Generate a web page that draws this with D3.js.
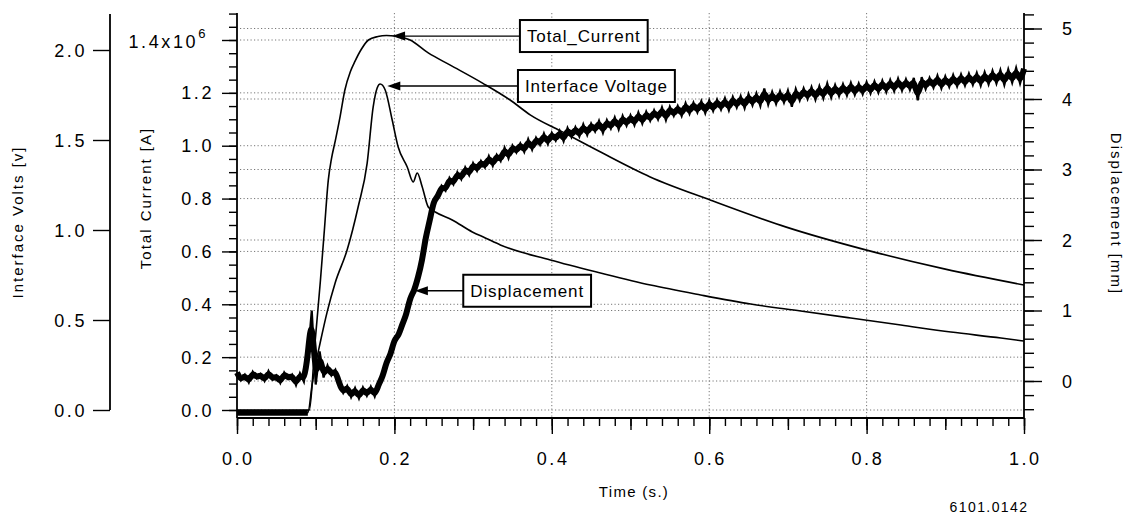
<!DOCTYPE html>
<html><head><meta charset="utf-8">
<script src="https://cdn.jsdelivr.net/npm/d3@7"></script>
<style>
body{margin:0;background:#fff}
svg{display:block}
text{font-family:"Liberation Sans",Arial,Helvetica,sans-serif;fill:#000}
</style>
</head><body>
<svg id="chart" width="1126" height="518"></svg>
<script>
// ---------- data ----------
const timeTicks = [0, 0.2, 0.4, 0.6, 0.8, 1.0];
const currentTicks = [0, 0.2, 0.4, 0.6, 0.8, 1.0, 1.2, 1.4];
const voltTicks = [0, 0.5, 1.0, 1.5, 2.0];
const dispTicks = [0, 1, 2, 3, 4, 5];

// Total current (x10^6 A)
const currentTime = [0, 0.092, 0.099, 0.106, 0.111, 0.116, 0.120, 0.125, 0.131, 0.137, 0.144, 0.150, 0.158, 0.167, 0.179, 0.190, 0.201, 0.220, 0.243, 0.271, 0.312, 0.347, 0.373, 0.411, 0.462, 0.525, 0.602, 0.698, 0.800, 0.900, 1.000];
const currentVal  = [0, 0,     0.25,  0.49,  0.68,  0.87,  0.95,  1.02,  1.11,  1.21,  1.28,  1.32,  1.365, 1.40,  1.413, 1.417, 1.415, 1.400, 1.351, 1.305, 1.237, 1.173, 1.116, 1.056, 0.976, 0.882, 0.794, 0.692, 0.605, 0.533, 0.473];

// Interface voltage (V)
const voltTime = [0, 0.090, 0.0954, 0.1005, 0.1056, 0.1145, 0.1247, 0.1399, 0.1539, 0.1654, 0.1730, 0.1781, 0.1819, 0.1883, 0.1972, 0.2048, 0.2163, 0.2239, 0.2290, 0.2354, 0.2430, 0.2519, 0.2735, 0.2990, 0.3155, 0.3346, 0.3982, 0.4618, 0.5254, 0.5891, 0.6527, 0.7163, 0.7799, 0.8435, 0.9071, 0.9707, 1.0];
const voltVal  = [-0.015, -0.015, 0.139, 0.267, 0.372, 0.544, 0.706, 0.889, 1.128, 1.372, 1.683, 1.789, 1.811, 1.778, 1.611, 1.461, 1.350, 1.267, 1.317, 1.239, 1.128, 1.100, 1.056, 0.989, 0.956, 0.917, 0.833, 0.761, 0.694, 0.639, 0.589, 0.550, 0.511, 0.472, 0.433, 0.400, 0.383];
const preTriggerEnd = 0.090;

// Displacement (mm), sampled every 0.005 s from t = 0
const dispStart = 0, dispStep = 0.005;
const dispVal = [
 0.12, 0.01, 0.09,-0.02, 0.13, 0.04, 0.10, 0.00, 0.14, 0.02,
 0.08,-0.03, 0.12, 0.03, 0.09,-0.06, 0.11,-0.01, 0.35, 1.00,
-0.05, 0.42, 0.05, 0.22, 0.08, 0.16,-0.04,-0.17,-0.07,-0.23,
-0.10,-0.25,-0.09,-0.21,-0.08,-0.22,-0.04, 0.05, 0.28, 0.36,
 0.60, 0.63, 0.81, 0.93, 1.19, 1.27, 1.47, 1.69, 2.06, 2.27,
 2.57, 2.60, 2.77, 2.70, 2.88, 2.79, 2.96, 2.86, 3.03, 2.92,
 3.09, 2.98, 3.12, 3.03, 3.19, 3.05, 3.21, 3.12, 3.31, 3.16,
 3.34, 3.24, 3.37, 3.25, 3.43, 3.28, 3.45, 3.35, 3.51, 3.36,
 3.52, 3.41, 3.55, 3.40, 3.59, 3.46, 3.60, 3.47, 3.64, 3.49,
 3.65, 3.54, 3.69, 3.52, 3.70, 3.58, 3.74, 3.57, 3.76, 3.62,
 3.77, 3.63, 3.81, 3.65, 3.82, 3.69, 3.84, 3.71, 3.88, 3.70,
 3.89, 3.76, 3.90, 3.76, 3.94, 3.79, 3.95, 3.81, 3.97, 3.80,
 3.98, 3.83, 3.99, 3.85, 4.01, 3.84, 4.03, 3.88, 4.04, 3.87,
 4.07, 3.91, 4.08, 3.90, 4.15, 3.92, 4.10, 3.93, 4.11, 3.95,
 4.12, 3.89, 4.14, 3.98, 4.15, 4.00, 4.17, 3.99, 4.18, 4.01,
 4.22, 4.02, 4.20, 4.04, 4.21, 4.05, 4.23, 4.06, 4.22, 4.07,
 4.24, 4.08, 4.25, 4.09, 4.26, 4.10, 4.27, 4.11, 4.29, 4.12,
 4.28, 4.13, 4.30, 3.98, 4.31, 4.14, 4.30, 4.16, 4.33, 4.15,
 4.32, 4.17, 4.34, 4.18, 4.35, 4.19, 4.36, 4.20, 4.37, 4.19,
 4.38, 4.21, 4.40, 4.22, 4.41, 4.20, 4.42, 4.23, 4.44, 4.22,
 4.43
];

// Annotations: label, arrow tip (time, value on its axis), box left (time)
const annLabels = ['Total_Current', 'Interface Voltage', 'Displacement'];
const annTipTime = [0.197, 0.191, 0.226];
const annTipValue = [1.415, 1.80, 1.28];
const annAxis = ['current', 'volt', 'disp'];
const annBoxTime = [0.3595, 0.357, 0.2875];

// ---------- layout ----------
const svg = d3.select('#chart');
const plotTop = 13, plotBottom = 418;
const x = d3.scaleLinear().domain([0, 1]).range([237, 1024]);
const yC = d3.scaleLinear().domain([0, 1.4]).range([410, 40]);
const yV = d3.scaleLinear().domain([0, 2.0]).range([410, 50]);
const yD = d3.scaleLinear().domain([0, 5]).range([381, 28.5]);
const yOf = {current: yC, volt: yV, disp: yD};
const fmt1 = d3.format('.1f');
const tickFont = 18, tickLS = 2.6;

// ---------- grid ----------
const grid = svg.append('g').attr('stroke', '#777').attr('stroke-width', 1).attr('stroke-dasharray', '1.2,2.3').attr('fill', 'none');
grid.selectAll('line.gc').data(currentTicks).join('line').attr('class', 'gc')
  .attr('x1', x(0) + 3).attr('x2', x(1) - 2).attr('y1', d => yC(d)).attr('y2', d => yC(d));
grid.selectAll('line.gd').data(dispTicks).join('line').attr('class', 'gd')
  .attr('x1', x(0) + 3).attr('x2', x(1) - 2).attr('y1', d => yD(d)).attr('y2', d => yD(d));
grid.selectAll('line.gt').data(timeTicks.slice(1, -1)).join('line').attr('class', 'gt')
  .attr('x1', d => x(d)).attr('x2', d => x(d)).attr('y1', plotTop).attr('y2', plotBottom);

// ---------- curves ----------
const curveG = svg.append('g').attr('fill', 'none').attr('stroke', '#000');
const currentPts = currentTime.map((t, i) => [t, currentVal[i]]);
const voltPts = voltTime.map((t, i) => [t, voltVal[i]]);
const dispPts = dispVal.map((v, i) => [dispStart + i * dispStep, v]);

const dispLine = d3.line().x(d => x(d[0])).y(d => yD(d[1]));
// smoothed core of the noisy displacement trace
curveG.append('path')
  .attr('d', dispLine.curve(d3.curveBasis)(dispPts))
  .attr('stroke-width', 6).attr('stroke-linejoin', 'round');
// raw noisy trace
curveG.append('path')
  .attr('d', dispLine.curve(d3.curveLinear)(dispPts))
  .attr('stroke-width', 2.2).attr('stroke-linejoin', 'miter');
curveG.append('path')
  .attr('d', d3.line().x(d => x(d[0])).y(d => yC(d[1])).curve(d3.curveMonotoneX)(currentPts))
  .attr('stroke-width', 1.6);
curveG.append('path')
  .attr('d', d3.line().x(d => x(d[0])).y(d => yV(d[1])).curve(d3.curveMonotoneX)(voltPts))
  .attr('stroke-width', 1.6);
// thick pre-trigger baseline
curveG.append('path')
  .attr('d', d3.line().x(d => x(d[0])).y(d => yV(d[1]))(voltPts.filter(d => d[0] <= preTriggerEnd)))
  .attr('stroke-width', 6);

// ---------- axes ----------
function styleAxis(g) {
  g.selectAll('path.domain').remove();
  g.selectAll('line').attr('stroke', '#000').attr('stroke-width', 1.4);
}
const axesG = svg.append('g');

// X axis
const xg = axesG.append('g').attr('transform', `translate(0,${plotBottom})`);
xg.append('g').call(d3.axisBottom(x).tickValues(d3.range(0, 51).map(i => i / 50)).tickSize(8).tickFormat('')).call(styleAxis);
xg.append('g').call(d3.axisBottom(x).tickValues(d3.range(0, 11).map(i => i / 10)).tickSize(12).tickFormat('')).call(styleAxis);
xg.append('g').call(d3.axisBottom(x).tickValues(timeTicks).tickSize(16).tickFormat('')).call(styleAxis);
xg.append('line').attr('x1', x(0)).attr('x2', x(1)).attr('stroke', '#000').attr('stroke-width', 1.8);
axesG.selectAll('text.xt').data(timeTicks).join('text').attr('class', 'xt')
  .attr('x', d => x(d) + tickLS / 2).attr('y', 465).attr('text-anchor', 'middle')
  .attr('font-size', tickFont).attr('letter-spacing', tickLS).text(d => fmt1(d));

// Current axis (left, inner)
const cg = axesG.append('g').attr('transform', `translate(${x(0)},0)`);
cg.append('g').call(d3.axisLeft(yC).tickValues(d3.range(0, 31).map(i => i / 20)).tickSize(8).tickFormat('')).call(styleAxis);
cg.append('g').call(d3.axisLeft(yC).tickValues(currentTicks).tickSize(15).tickFormat('')).call(styleAxis);
cg.append('line').attr('y1', plotTop).attr('y2', plotBottom).attr('stroke', '#000').attr('stroke-width', 1.8);
axesG.selectAll('text.ct').data(currentTicks.slice(0, -1)).join('text').attr('class', 'ct')
  .attr('x', 214).attr('y', d => yC(d) + 6.5).attr('text-anchor', 'end')
  .attr('font-size', tickFont).attr('letter-spacing', tickLS).text(d => fmt1(d));
const topLbl = axesG.append('text').attr('x', 208).attr('y', yC(1.4) + 8).attr('text-anchor', 'end')
  .attr('font-size', tickFont).attr('letter-spacing', tickLS);
topLbl.append('tspan').text(fmt1(currentTicks[currentTicks.length - 1]) + 'x10');
topLbl.append('tspan').attr('dy', -10).attr('font-size', 13).text('6');

// Volts axis (far left)
const vg = axesG.append('g').attr('transform', 'translate(110,0)');
vg.append('g').call(d3.axisLeft(yV).tickValues(voltTicks).tickSize(17).tickFormat('')).call(styleAxis);
vg.append('line').attr('y1', yV(2.2)).attr('y2', yV(0)).attr('stroke', '#000').attr('stroke-width', 1.8);
axesG.selectAll('text.vt').data(voltTicks).join('text').attr('class', 'vt')
  .attr('x', 87).attr('y', d => yV(d) + 6.5).attr('text-anchor', 'end')
  .attr('font-size', tickFont).attr('letter-spacing', tickLS).text(d => fmt1(d));

// Displacement axis (right)
const dg = axesG.append('g').attr('transform', `translate(${x(1)},0)`);
dg.append('g').call(d3.axisRight(yD).tickValues(d3.range(-2, 27).map(i => i / 5)).tickSize(10).tickFormat('')).call(styleAxis);
dg.append('g').call(d3.axisRight(yD).tickValues(dispTicks).tickSize(18).tickFormat('')).call(styleAxis);
dg.append('line').attr('y1', plotTop).attr('y2', plotBottom).attr('stroke', '#000').attr('stroke-width', 1.8);
axesG.selectAll('text.dt').data(dispTicks).join('text').attr('class', 'dt')
  .attr('x', 1062).attr('y', d => yD(d) + 6.5).attr('text-anchor', 'start')
  .attr('font-size', tickFont).attr('letter-spacing', tickLS).text(d => d);

// Axis titles
axesG.append('text').attr('transform', 'translate(23,222) rotate(-90)').attr('text-anchor', 'middle')
  .attr('font-size', 15).attr('letter-spacing', 2).text('Interface Volts [v]');
axesG.append('text').attr('transform', 'translate(151,198) rotate(-90)').attr('text-anchor', 'middle')
  .attr('font-size', 15).attr('letter-spacing', 2).text('Total Current [A]');
axesG.append('text').attr('transform', 'translate(1111,214) rotate(90)').attr('text-anchor', 'middle')
  .attr('font-size', 15).attr('letter-spacing', 2).text('Displacement [mm]');
axesG.append('text').attr('x', 634).attr('y', 497).attr('text-anchor', 'middle')
  .attr('font-size', 15).attr('letter-spacing', 1.3).text('Time (s.)');
axesG.append('text').attr('x', 989).attr('y', 512).attr('text-anchor', 'middle')
  .attr('font-size', 14).attr('letter-spacing', 1.4).text('6101.0142');

// ---------- annotations ----------
const annG = svg.append('g');
annLabels.forEach((lbl, i) => {
  const tipX = x(annTipTime[i]);
  const tipY = yOf[annAxis[i]](annTipValue[i]);
  const bx = x(annBoxTime[i]);
  const g = annG.append('g');
  g.append('line').attr('x1', tipX + 8).attr('x2', bx).attr('y1', tipY).attr('y2', tipY)
    .attr('stroke', '#000').attr('stroke-width', 1.3);
  g.append('path').attr('d', `M${tipX},${tipY} L${tipX + 13},${tipY - 4.5} L${tipX + 13},${tipY + 4.5} Z`).attr('fill', '#000');
  const txt = g.append('text').attr('x', bx + 7).attr('y', tipY + 6).attr('font-size', 17).attr('letter-spacing', 0.9).text(lbl);
  const w = txt.node().getComputedTextLength();
  g.insert('rect', 'text').attr('x', bx).attr('y', tipY - 16).attr('width', w + 14).attr('height', 32)
    .attr('fill', '#fff').attr('stroke', '#000').attr('stroke-width', 2);
});
</script>
</body></html>
